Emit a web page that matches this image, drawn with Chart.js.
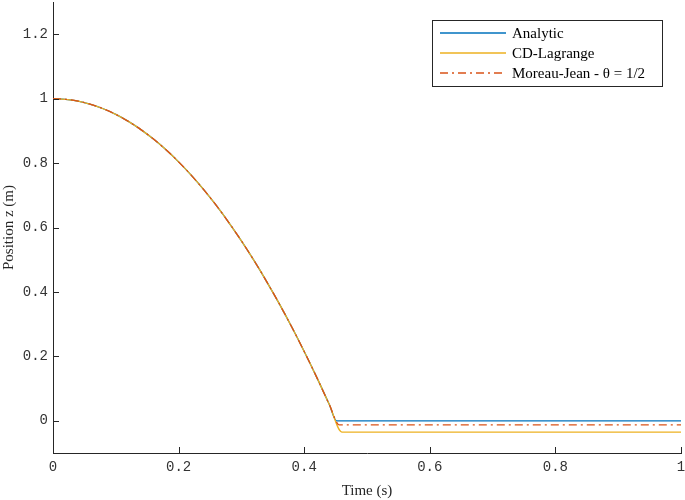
<!DOCTYPE html>
<html><head><meta charset="utf-8">
<script src="https://cdn.jsdelivr.net/npm/chart.js@4"></script>
<style>html,body{margin:0;padding:0;background:#fff}#wrap{width:685px;height:500px}</style>
</head><body><div id="wrap"><canvas id="c"></canvas></div>
<script>
const tFall = [0,0.02,0.04,0.06,0.08,0.10,0.12,0.14,0.16,0.18,0.20,0.22,0.24,0.26,0.28,0.30,0.32,0.34,0.36,0.38,0.40,0.42,0.44];
const zFall = [1,0.998,0.9922,0.9823,0.9686,0.9510,0.9294,0.9039,0.8744,0.8411,0.8038,0.7626,0.7175,0.6684,0.6155,0.5586,0.4977,0.4330,0.3643,0.2917,0.2152,0.1348,0.0504];
const tAnalyticTail = [0.4515, 1.0];
const zAnalyticTail = [0, 0];
const tCDTail = [0.46, 1.0];
const zCDTail = [-0.035, -0.035];
const tMJTail = [0.456, 1.0];
const zMJTail = [-0.013, -0.013];
const xTicks = [0,0.2,0.4,0.6,0.8,1];
const yTicks = [0,0.2,0.4,0.6,0.8,1,1.2];
const seriesNames = ['Analytic','CD-Lagrange','Moreau-Jean - \u03B8 = 1/2'];

function pts(ts, zs){ return ts.map((t,i)=>({x:t,y:zs[i]})); }
const colors = ['#0072BD','#EDB120','#D95319'];
const dashes = [[],[],[8,4,2,4]];

const inwardTicks = {
  id:'inwardTicks',
  afterDraw(chart){
    const ctx = chart.ctx, a = chart.chartArea;
    const xs = chart.scales.x, ys = chart.scales.y;
    ctx.save(); ctx.strokeStyle='#262626'; ctx.lineWidth=1;
    ctx.beginPath();
    xTicks.forEach(v=>{const p=Math.round(xs.getPixelForValue(v))+0.5; ctx.moveTo(p,a.bottom); ctx.lineTo(p,a.bottom-6);});
    yTicks.forEach(v=>{const p=Math.round(ys.getPixelForValue(v))+0.5; ctx.moveTo(a.left,p); ctx.lineTo(a.left+6,p);});
    ctx.stroke();
    // legend box
    const bx=432, by=20, bw=230, bh=66;
    ctx.fillStyle='#fff'; ctx.fillRect(bx,by,bw,bh);
    ctx.lineWidth=1; ctx.strokeRect(bx+0.5,by+0.5,bw,bh);
    ctx.font='15px "Liberation Serif", serif'; ctx.textBaseline='middle'; ctx.fillStyle='#000';
    seriesNames.forEach((n,i)=>{
      const y = 33 + i*20;
      ctx.strokeStyle=colors[i]; ctx.lineWidth=1.3; ctx.setLineDash(dashes[i]);
      ctx.beginPath(); ctx.moveTo(440,y); ctx.lineTo(506,y); ctx.stroke();
      ctx.setLineDash([]);
      ctx.fillText(n, 512, y+1);
    });
    ctx.restore();
  }
};

function noPad(s){ s.paddingTop=0; s.paddingBottom=0; s.paddingLeft=0; s.paddingRight=0; }

new Chart(document.getElementById('c'), {
  type:'line',
  data:{datasets:[
    {label:seriesNames[0], order:3, data:pts(tFall.concat(tAnalyticTail), zFall.concat(zAnalyticTail)), borderColor:colors[0], borderWidth:1.3, pointRadius:0, fill:false},
    {label:seriesNames[1], order:2, data:pts(tFall.concat(tCDTail), zFall.concat(zCDTail)), borderColor:colors[1], borderWidth:1.3, pointRadius:0, fill:false},
    {label:seriesNames[2], order:1, data:pts(tFall.concat(tMJTail), zFall.concat(zMJTail)), borderColor:colors[2], borderWidth:1.3, borderDash:dashes[2], pointRadius:0, fill:false}
  ]},
  options:{
    responsive:true, maintainAspectRatio:false, animation:false,
    layout:{padding:{top:2,right:4,left:0,bottom:0}},
    plugins:{legend:{display:false}, tooltip:{enabled:false}},
    elements:{line:{cubicInterpolationMode:'monotone'}},
    scales:{
      x:{type:'linear', min:0, max:1,
        afterBuildTicks(s){ s.ticks = xTicks.map(v=>({value:v})); },
        afterFit(s){ s.height = 47; noPad(s); },
        grid:{display:false, drawTicks:false}, border:{display:true,color:'#262626',width:1},
        ticks:{color:'#333333', padding:6, maxRotation:0, font:{family:'"Liberation Mono", monospace', size:14},
          callback:(v)=> (v===0||v===1)? String(v) : v.toFixed(1)},
        title:{display:true, text:'Time (s)', color:'#262626', padding:{top:4,bottom:0}, font:{family:'"Liberation Serif", serif', size:15}}
      },
      y:{type:'linear', min:-0.1, max:1.3,
        afterBuildTicks(s){ s.ticks = yTicks.map(v=>({value:v})); },
        afterFit(s){ s.width = 53; noPad(s); },
        grid:{display:false, drawTicks:false}, border:{display:true,color:'#262626',width:1},
        ticks:{color:'#333333', padding:5, font:{family:'"Liberation Mono", monospace', size:14},
          callback:(v)=> (v===0||v===1)? String(v) : v.toFixed(1)},
        title:{display:true, text:'Position z (m)', color:'#262626', padding:{top:0,bottom:0}, font:{family:'"Liberation Serif", serif', size:15}}
      }
    }
  },
  plugins:[inwardTicks]
});
</script></body></html>
